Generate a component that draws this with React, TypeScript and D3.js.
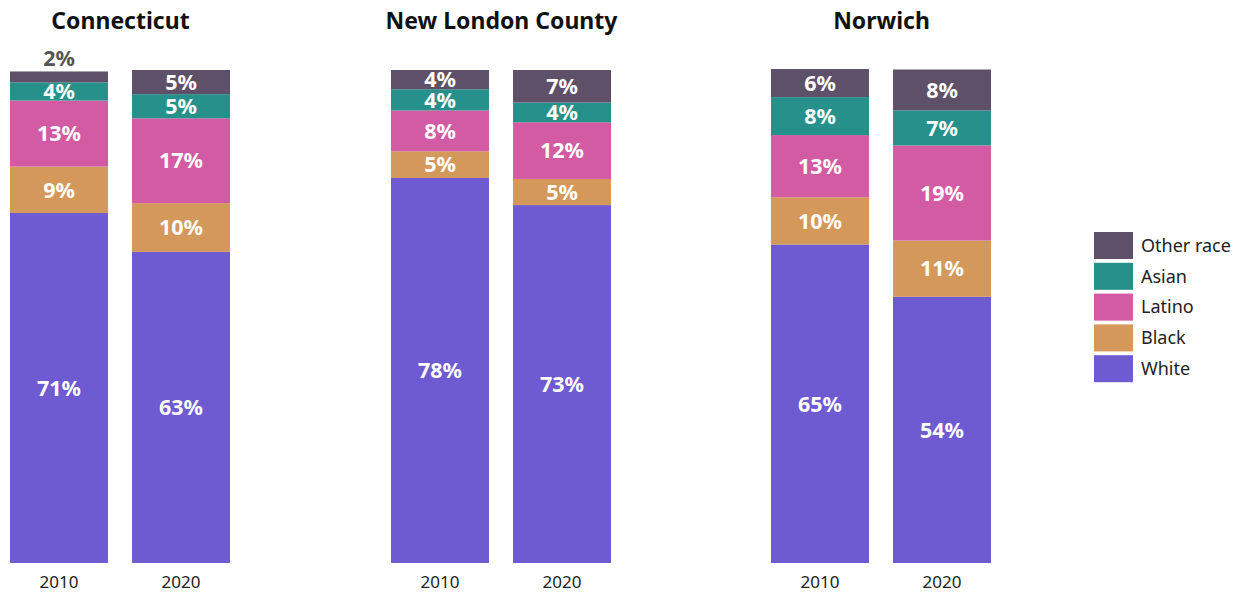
import React from "react";
import * as d3 from "d3";

const regions = ["Connecticut", "New London County", "Norwich"];
const years = ["2010", "2020"];
const races = ["White", "Black", "Latino", "Asian", "Other race"];
const colors = ["#6e5ad1", "#d4985b", "#d35ba3", "#26918b", "#5d5068"];

// values per region, per year: [White, Black, Latino, Asian, Other race]
const connecticut = [
  [71.0, 9.4, 13.4, 3.7, 2.2],
  [63.1, 9.9, 17.2, 4.9, 4.9],
];
const newLondon = [
  [78.1, 5.4, 8.3, 4.3, 3.9],
  [72.6, 5.3, 11.5, 4.0, 6.6],
];
const norwich = [
  [64.6, 9.6, 12.6, 7.7, 5.7],
  [54.0, 11.4, 19.3, 7.1, 8.3],
];
const regionValues = [connecticut, newLondon, norwich];

const W = 1243;
const H = 592;
const FONT = "'Noto Sans', sans-serif";

export default function App() {
  const y = d3.scaleLinear().domain([0, 100]).range([563, 70]);
  const facetStarts = [10, 391, 771];
  const x = d3.scaleBand<string>().domain(years).range([0, 220]).paddingInner(0.197).paddingOuter(0);

  return (
    <svg width={W} height={H} style={{ position: "absolute", left: 0, top: 0 }} fontFamily={FONT}>
      {regions.map((region, ri) => {
        const ox = facetStarts[ri];
        return (
          <g key={region} transform={`translate(${ox},0)`}>
            <text x={110.5} y={29} textAnchor="middle" fontSize={23} fontWeight={700} fill="#111">
              {region}
            </text>
            {years.map((yr, yi) => {
              const vals = regionValues[ri][yi];
              const stack = d3.cumsum(vals);
              const bx = x(yr)!;
              const bw = x.bandwidth();
              return (
                <g key={yr}>
                  {vals.map((v, k) => {
                    const y0 = y(stack[k] - v);
                    const y1 = y(stack[k]);
                    return (
                      <rect key={k} x={bx} y={y1} width={bw} height={y0 - y1} fill={colors[k]} />
                    );
                  })}
                  {vals.map((v, k) => {
                    const y0 = y(stack[k] - v);
                    const y1 = y(stack[k]);
                    const h = y0 - y1;
                    const inside = h >= 15;
                    return (
                      <text
                        key={"t" + k}
                        x={bx + bw / 2}
                        y={inside ? (y0 + y1) / 2 : y1 - 13}
                        dy="0.36em"
                        textAnchor="middle"
                        fontSize={21.5}
                        fontWeight={700}
                        fill={inside ? "#ffffff" : "#555555"}
                      >
                        {Math.round(v) + "%"}
                      </text>
                    );
                  })}
                  <text x={bx + bw / 2} y={588} textAnchor="middle" fontSize={17} fill="#222">
                    {yr}
                  </text>
                </g>
              );
            })}
          </g>
        );
      })}
      <g transform="translate(1094,232)">
        {races
          .map((r, i) => ({ r, c: colors[i] }))
          .reverse()
          .map((d, i) => (
            <g key={d.r} transform={`translate(0,${i * 30.8})`}>
              <rect width={39} height={27} fill={d.c} />
              <text x={47} y={13.5} dy="0.35em" fontSize={18} fill="#222">
                {d.r}
              </text>
            </g>
          ))}
      </g>
    </svg>
  );
}
